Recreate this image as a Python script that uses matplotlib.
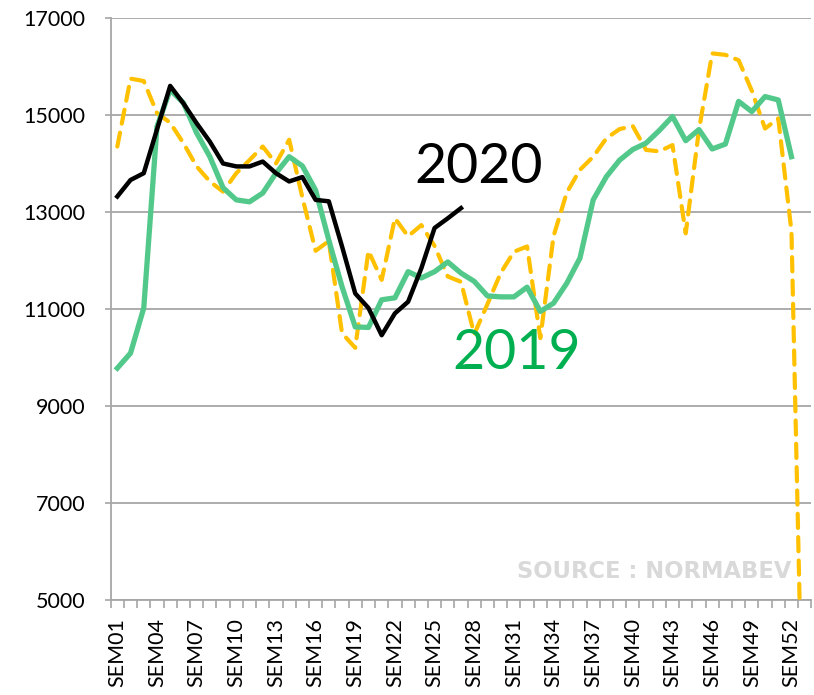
import numpy as np
import matplotlib
matplotlib.use("Agg")
import matplotlib.pyplot as plt

weeks = [f"SEM{i:02d}" for i in range(1, 54)]

y2019 = [9780, 10090, 11020, 14760, 15520, 15250, 14630, 14140, 13500, 13250,
         13210, 13390, 13800, 14140, 13950, 13450, 12420, 11460, 10630, 10620,
         11190, 11230, 11770, 11640, 11770, 11970, 11740, 11570, 11270, 11250,
         11250, 11450, 10950, 11120, 11530, 12050, 13250, 13730, 14070, 14290,
         14420, 14680, 14970, 14470, 14700, 14300, 14400, 15280, 15070, 15380,
         15310, 14140]

y2020 = [13320, 13660, 13800, 14700, 15600, 15240, 14830, 14450, 14000, 13940,
         13940, 14040, 13800, 13630, 13720, 13250, 13220, 12290, 11320, 11020,
         10460, 10910, 11150, 11840, 12670, 12870, 13080]

y2018 = [14350, 15750, 15700, 15040, 14840, 14420, 13940, 13630, 13420, 13800,
         14070, 14350, 14000, 14490, 13300, 12200, 12400, 10500, 10200, 12200,
         11600, 12870, 12500, 12730, 12300, 11670, 11560, 10480, 11100, 11740,
         12180, 12290, 10400, 12500, 13400, 13870, 14140, 14520, 14710, 14770,
         14280, 14250, 14380, 12560, 14690, 16270, 16240, 16130, 15500, 14720,
         14930, 12600, 200]

yticks = [5000, 7000, 9000, 11000, 13000, 15000, 17000]

plt.rcParams['font.family'] = ['Lato', 'DejaVu Sans']

fig = plt.figure(figsize=(8.14, 6.95), dpi=100)
ax = fig.add_axes([110.7/814, 1-600/695, (811.3-110.7)/814, (600-18)/695])

x18 = np.arange(len(y2018))
x19 = np.arange(len(y2019))
x20 = np.arange(len(y2020))

ax.plot(x18, y2018, color='#FFC000', lw=3.0, linestyle=(0, (3.4, 2.2)),
        dash_capstyle='round', zorder=3)
ax.plot(x19, y2019, color='#52C98A', lw=3.8, zorder=4)
ax.plot(x20, y2020, color='black', lw=3.2, zorder=5)

ax.set_xlim(-0.5, 52.5)
ax.set_ylim(5000, 17000)
ax.set_yticks(yticks)
ax.set_yticklabels([str(v) for v in yticks], fontsize=15.5)
ax.grid(axis='y', color='#A6A6A6', lw=1.3)
ax.set_axisbelow(True)

lab_pos = list(range(0, 53, 3))
ax.set_xticks(lab_pos)
ax.set_xticklabels([weeks[i] for i in lab_pos], rotation=90, fontsize=15.5)
ax.tick_params(axis='x', length=0, pad=13)
ax.set_xticks(np.arange(-0.5, 53, 1), minor=True)
ax.tick_params(axis='x', which='minor', length=6, color='#A6A6A6', width=1.2)
ax.tick_params(axis='y', length=4.5, color='#A6A6A6', width=1.2, pad=14)

for s in ['top', 'right']:
    ax.spines[s].set_visible(False)
for s in ['left', 'bottom']:
    ax.spines[s].set_color('#A6A6A6')
    ax.spines[s].set_linewidth(1.3)

ax.text(27.3, 13920, '2020', fontsize=40, color='black', ha='center', va='center')
ax.text(30.2, 10090, '2019', fontsize=40, color='#00B050', ha='center', va='center')
ax.text(40.6, 5590, 'SOURCE : NORMABEV', fontsize=16.3, fontweight='bold',
        family=['DejaVu Sans'], color='#D9D9D9', ha='center', va='center')

fig.savefig('out.png', dpi=100)
